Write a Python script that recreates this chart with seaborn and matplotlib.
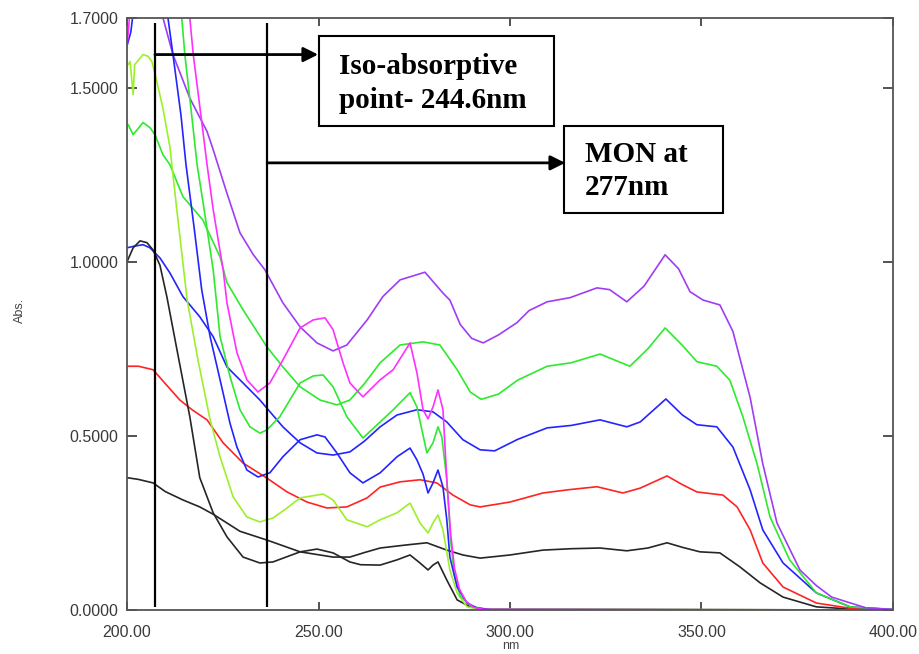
import numpy as np
import pandas as pd
import matplotlib
matplotlib.use("Agg")
import matplotlib.pyplot as plt
from matplotlib.patches import Rectangle
import seaborn as sns

# ---------------- data ----------------
wl_black_b = [200, 203, 206.8, 210, 214.6, 219, 222.5, 229.5, 236.5, 245.2, 253.8, 258.2, 262, 266.1, 273.1,
              278.3, 283.5, 287.7, 292.2, 300, 308.6, 316, 323.5, 330.5, 336, 341, 345, 349.6, 354.8, 360,
              365.3, 371.3, 380, 390, 400]
abs_black_b = [0.38, 0.375, 0.365, 0.34, 0.316, 0.296, 0.275, 0.226, 0.201, 0.167, 0.152, 0.152, 0.165, 0.178,
               0.187, 0.193, 0.172, 0.158, 0.149, 0.158, 0.172, 0.176, 0.178, 0.17, 0.178, 0.193, 0.18, 0.167,
               0.164, 0.124, 0.078, 0.037, 0.009, 0.002, 0.0]

wl_red = [200, 203, 206.8, 210, 213.8, 217, 220.9, 225.1, 230.3, 236.5, 241.8, 247, 252.2, 257.4, 262.7, 266.1,
          271.3, 276.5, 280.9, 285.1, 289.6, 292.2, 300, 308.6, 315, 322.7, 329.5, 334, 341, 345, 348.8, 355.6,
          359.3, 362.7, 366, 371.3, 380, 388.8, 400]
abs_red = [0.70, 0.70, 0.69, 0.65, 0.603, 0.575, 0.546, 0.48, 0.422, 0.379, 0.339, 0.31, 0.293, 0.296, 0.322,
           0.353, 0.368, 0.374, 0.365, 0.33, 0.302, 0.296, 0.31, 0.336, 0.345, 0.354, 0.336, 0.35, 0.385, 0.36,
           0.339, 0.33, 0.296, 0.23, 0.135, 0.066, 0.02, 0.005, 0.001]

wl_blue_b = [200, 202, 204.2, 206, 208.6, 211.2, 214.6, 219, 222.5, 226.1, 230.3, 234.7, 240.7, 245.2, 249.6,
             253.8, 258.2, 262, 266.1, 270.5, 275.7, 279.9, 283.5, 287.7, 292.2, 296, 302, 309.7, 316, 323.5,
             330.5, 334, 340.7, 345, 348.8, 354, 358.2, 362.7, 366, 371.3, 380, 388.8, 400]
abs_blue_b = [1.04, 1.045, 1.049, 1.04, 1.011, 0.968, 0.90, 0.842, 0.785, 0.698, 0.652, 0.603, 0.526, 0.48,
              0.451, 0.445, 0.454, 0.485, 0.526, 0.56, 0.575, 0.569, 0.54, 0.489, 0.46, 0.457, 0.49, 0.523, 0.53,
              0.546, 0.526, 0.54, 0.606, 0.56, 0.532, 0.526, 0.468, 0.345, 0.23, 0.135, 0.049, 0.009, 0.001]

wl_green_b = [200.3, 201.6, 204.2, 206, 207.3, 209.4, 211.2, 214.6, 219.8, 224.3, 226.1, 230.3, 236.5, 240.7,
              245.2, 250.4, 254.8, 258.2, 262, 266.1, 271.3, 277.3, 281.7, 286.2, 289.6, 292.5, 297, 302, 309.7,
              316, 323.5, 331.3, 336, 340.5, 345, 348.8, 354, 357.4, 360.8, 364.5, 367.9, 373, 380, 388.8, 400]
abs_green_b = [1.394, 1.365, 1.40, 1.385, 1.365, 1.307, 1.279, 1.187, 1.12, 1.014, 0.94, 0.862, 0.756, 0.698,
               0.641, 0.603, 0.589, 0.603, 0.65, 0.71, 0.761, 0.77, 0.761, 0.69, 0.626, 0.605, 0.62, 0.66, 0.70,
               0.71, 0.735, 0.70, 0.75, 0.81, 0.76, 0.713, 0.70, 0.66, 0.555, 0.42, 0.267, 0.144, 0.049, 0.009,
               0.001]

wl_purple = [205, 209.4, 212, 216.4, 220.9, 222.5, 226, 229.5, 233, 236, 240.7, 245.2, 249.6, 253.8, 257.4,
             262.7, 266.8, 271.3, 277.8, 282.5, 284.3, 287, 290, 293, 297, 301.8, 305, 309.7, 315.7, 322.7, 326,
             330.5, 335, 340.5, 344, 347, 350.4, 354.8, 358.2, 362.7, 366, 369.7, 375.7, 380, 384, 393, 400]
abs_purple = [1.95, 1.70, 1.595, 1.47, 1.374, 1.322, 1.20, 1.083, 1.02, 0.977, 0.882, 0.813, 0.767, 0.744, 0.761,
              0.833, 0.90, 0.948, 0.97, 0.91, 0.89, 0.82, 0.78, 0.767, 0.79, 0.825, 0.86, 0.885, 0.897, 0.925,
              0.92, 0.885, 0.93, 1.02, 0.98, 0.914, 0.89, 0.876, 0.80, 0.61, 0.42, 0.25, 0.115, 0.07, 0.037,
              0.006, 0.002]

wl_black_a = [200, 201.6, 203.4, 205.2, 206.8, 208.6, 210.4, 213, 216.4, 219, 222.5, 226.1, 230.3, 234.7, 238.1,
              245.2, 249.6, 253.8, 258.2, 261, 266.1, 270.5, 273.9, 276.5, 278.6, 279.9, 281.2, 283.5, 286.2,
              289.6, 293, 400]
abs_black_a = [1.0, 1.04, 1.06, 1.055, 1.034, 0.99, 0.90, 0.75, 0.555, 0.38, 0.279, 0.21, 0.152, 0.135, 0.138,
               0.167, 0.175, 0.164, 0.138, 0.13, 0.129, 0.144, 0.158, 0.135, 0.115, 0.129, 0.138, 0.086, 0.029,
               0.009, 0.002, 0.0]

wl_lime = [200.3, 200.8, 201.6, 202, 204.2, 205.5, 206.5, 207.8, 209.4, 211.2, 213, 215.7, 218.5, 221.7, 224.3,
           227.7, 231.3, 234.7, 238.1, 241.8, 245.2, 251.2, 253.8, 257.4, 262.7, 266.1, 270.5, 273.9, 276.5,
           278.6, 279.9, 281.2, 282.5, 284.3, 286.2, 288.8, 292, 400]
abs_lime = [1.566, 1.575, 1.48, 1.566, 1.595, 1.59, 1.575, 1.517, 1.44, 1.33, 1.15, 0.891, 0.72, 0.546, 0.44,
            0.325, 0.267, 0.253, 0.264, 0.293, 0.322, 0.333, 0.316, 0.259, 0.239, 0.259, 0.279, 0.307, 0.25,
            0.221, 0.25, 0.273, 0.23, 0.115, 0.049, 0.009, 0.002, 0.0]

wl_green_a = [200, 212, 214.3, 215.1, 216.9, 218.3, 220, 222.5, 224.3, 226.9, 229.5, 232.1, 234.7, 236.5, 239.9,
              245.2, 248.6, 251.2, 253.8, 257.4, 261.6, 266.1, 269.5, 273.9, 275.7, 278.3, 279.9, 281.2, 282.2,
              283.5, 284.5, 285.5, 287, 290, 294, 400]
abs_green_a = [1.9, 1.9, 1.70, 1.595, 1.42, 1.279, 1.16, 0.977, 0.785, 0.67, 0.575, 0.526, 0.508, 0.517, 0.555,
               0.652, 0.672, 0.675, 0.641, 0.555, 0.494, 0.54, 0.575, 0.624, 0.583, 0.451, 0.48, 0.526, 0.497,
               0.374, 0.2, 0.1, 0.04, 0.01, 0.002, 0.0]

wl_blue_a = [200, 201, 202, 208, 210.7, 212, 214.1, 215.4, 217.5, 219.5, 221.7, 224.3, 226.9, 228.7, 231.3, 234.2,
             237.3, 240.7, 245.2, 249.6, 251.7, 254.8, 258.2, 261.6, 266.1, 270.5, 273.9, 275.7, 277.3, 278.6,
             279.9, 281.2, 282.5, 283.5, 284.3, 286.2, 288.8, 291.4, 295, 400]
abs_blue_a = [1.62, 1.66, 1.75, 1.9, 1.70, 1.595, 1.42, 1.279, 1.10, 0.92, 0.785, 0.661, 0.536, 0.468, 0.402,
              0.382, 0.394, 0.44, 0.489, 0.503, 0.497, 0.451, 0.394, 0.365, 0.394, 0.44, 0.465, 0.431, 0.39,
              0.336, 0.365, 0.402, 0.353, 0.259, 0.152, 0.066, 0.02, 0.006, 0.001, 0.0]

wl_magenta = [200, 200.5, 201, 214, 216.4, 217.3, 219.3, 220.9, 222.5, 225.1, 226.1, 228.7, 231.3, 234.2, 237.3,
              240.7, 245.2, 248.6, 251.7, 253.8, 256.4, 258.2, 261.6, 266.1, 269.5, 273.9, 275.7, 277.3, 278.6,
              279.9, 281.2, 282.5, 283.5, 284.5, 285.5, 286.8, 288.5, 290.5, 293, 400]
abs_magenta = [1.62, 1.68, 1.8, 1.85, 1.70, 1.595, 1.42, 1.279, 1.15, 0.977, 0.882, 0.739, 0.661, 0.626, 0.652,
               0.718, 0.81, 0.833, 0.839, 0.805, 0.71, 0.652, 0.612, 0.661, 0.69, 0.767, 0.681, 0.575, 0.549,
               0.583, 0.632, 0.575, 0.374, 0.22, 0.12, 0.06, 0.025, 0.008, 0.002, 0.0]

x_ticks = [200, 250, 300, 350, 400]
x_tick_labels = ["200.00", "250.00", "300.00", "350.00", "400.00"]
y_ticks = [0.0, 0.5, 1.0, 1.5, 1.7]
y_tick_labels = ["0.0000", "0.5000", "1.0000", "1.5000", "1.7000"]

iso_nm = 207.3     # position of the first marker line in the picture
mon_nm = 236.6     # position of the second marker line in the picture
note_iso = "Iso-absorptive\npoint- 244.6nm"
note_mon = "MON at\n277nm"

series = [
    ("black_b", wl_black_b, abs_black_b, "#262626"),
    ("red", wl_red, abs_red, "#FF2424"),
    ("blue_b", wl_blue_b, abs_blue_b, "#2424FF"),
    ("green_b", wl_green_b, abs_green_b, "#2EEA2E"),
    ("purple", wl_purple, abs_purple, "#A03CF5"),
    ("black_a", wl_black_a, abs_black_a, "#262626"),
    ("lime", wl_lime, abs_lime, "#9CF02A"),
    ("green_a", wl_green_a, abs_green_a, "#2EEA2E"),
    ("blue_a", wl_blue_a, abs_blue_a, "#2424FF"),
    ("magenta", wl_magenta, abs_magenta, "#FF30FF"),
]

frames = [pd.DataFrame({"nm": w, "Abs": a, "series": name}) for name, w, a, _ in series]
df = pd.concat(frames, ignore_index=True)
palette = {name: c for name, _, _, c in series}
order = [name for name, _, _, _ in series]

# ---------------- plotting ----------------
sns.set_style("white")
plt.rcParams["font.family"] = ["Liberation Sans", "DejaVu Sans"]

fig = plt.figure(figsize=(9.2, 6.54), dpi=100)
ax = fig.add_axes([127 / 920, 44 / 654, 766 / 920, 592 / 654])

sns.lineplot(data=df, x="nm", y="Abs", hue="series", hue_order=order, palette=palette,
             estimator=None, sort=False, legend=False, linewidth=1.2, ax=ax)

ax.set_xlim(200, 400)
ax.set_ylim(0, 1.7)
ax.set_xticks(x_ticks)
ax.set_xticklabels(x_tick_labels)
ax.set_yticks(y_ticks)
ax.set_yticklabels(y_tick_labels)
ax.set_xlabel("")
ax.set_ylabel("")

for s in ax.spines.values():
    s.set_color("#555555")
    s.set_linewidth(1.3)

ax.tick_params(axis="x", which="both", direction="in", length=6, width=1.3, color="#444444",
               top=True, bottom=True, labelsize=11.5, labelcolor="#3a3a3a", pad=11)
ax.tick_params(axis="y", which="both", direction="in", length=7, width=1.3, color="#444444",
               left=True, right=True, labelsize=11.5, labelcolor="#3a3a3a", pad=6)

fig.text(20 / 920, 1 - 310 / 654, "Abs.", rotation=90, ha="center", va="center",
         fontsize=9, color="#444444")
fig.text(511 / 920, 8 / 654, "nm", ha="center", va="center", fontsize=9, color="#444444")

# marker lines
ax.vlines([iso_nm, mon_nm], 0.009, 1.687, colors="black", linewidth=1.6, zorder=5)

# arrows
ax.annotate("", xy=(249.9, 1.595), xytext=(iso_nm, 1.595),
            arrowprops=dict(arrowstyle="-|>", color="black", lw=2, mutation_scale=22,
                            shrinkA=0, shrinkB=0), zorder=6)
ax.annotate("", xy=(314.4, 1.284), xytext=(mon_nm, 1.284),
            arrowprops=dict(arrowstyle="-|>", color="black", lw=2, mutation_scale=22,
                            shrinkA=0, shrinkB=0), zorder=6)

# boxes
ax.add_patch(Rectangle((250.2, 1.391), 61.3, 0.256, facecolor="white", edgecolor="black",
                       linewidth=1.5, zorder=6))
ax.add_patch(Rectangle((314.1, 1.140), 41.6, 0.251, facecolor="white", edgecolor="black",
                       linewidth=1.5, zorder=6))
ax.text(255.4, 1.512, note_iso, ha="left", va="center", fontsize=21, fontweight="bold",
        family=["Liberation Serif", "DejaVu Serif"], linespacing=1.3, color="black", zorder=7)
ax.text(319.6, 1.260, note_mon, ha="left", va="center", fontsize=21, fontweight="bold",
        family=["Liberation Serif", "DejaVu Serif"], linespacing=1.3, color="black", zorder=7)

fig.savefig("out.png", dpi=100)
